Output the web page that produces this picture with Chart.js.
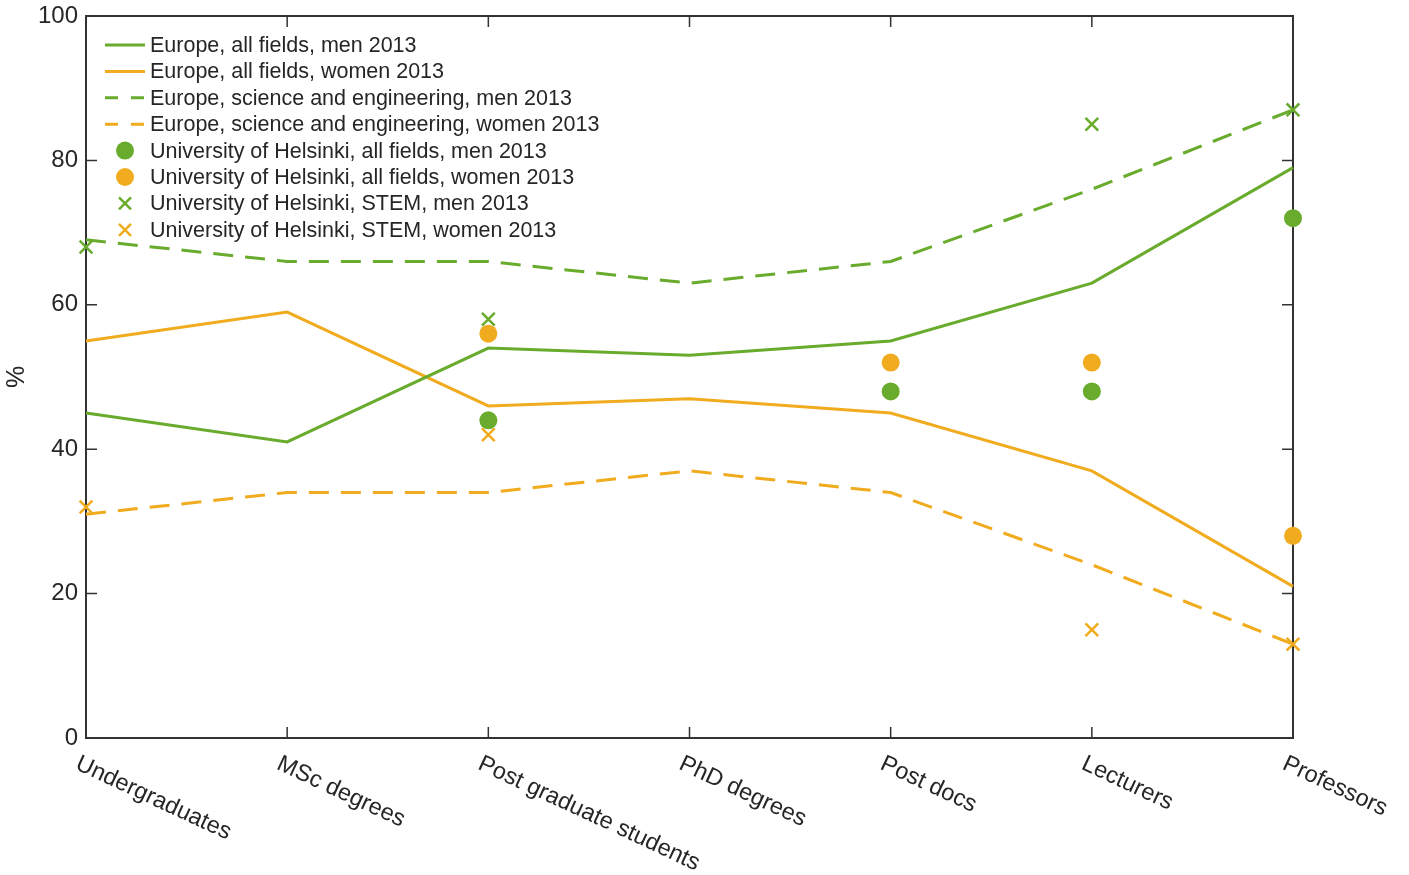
<!DOCTYPE html>
<html>
<head>
<meta charset="utf-8">
<script src="https://cdn.jsdelivr.net/npm/chart.js@4.4.1/dist/chart.umd.min.js"></script>
<style>
  html, body { margin: 0; padding: 0; background: #ffffff; }
  #wrap { width: 1409px; height: 875px; }
</style>
</head>
<body>
<div id="wrap"><canvas id="c" width="1409" height="875"></canvas></div>
<script>
// Share of men and women (%) by academic career stage
const categories = ['Undergraduates', 'MSc degrees', 'Post graduate students', 'PhD degrees', 'Post docs', 'Lecturers', 'Professors'];
const europeAllMen = [45, 41, 54, 53, 55, 63, 79];
const europeAllWomen = [55, 59, 46, 47, 45, 37, 21];
const europeSciMen = [69, 66, 66, 63, 66, 76, 87];
const europeSciWomen = [31, 34, 34, 37, 34, 24, 13];
const helsinkiAllMen = [null, null, 44, null, 48, 48, 72];
const helsinkiAllWomen = [null, null, 56, null, 52, 52, 28];
const helsinkiStemMen = [68, null, 58, null, null, 85, 87];
const helsinkiStemWomen = [32, null, 42, null, null, 15, 13];
const yTicks = [0, 20, 40, 60, 80, 100];

const GREEN = '#69ab2c';
const ORANGE = '#f0ab1e';
const INK = '#262626';
const AXIS = '#333333';
const FONT = '"Liberation Sans", Arial, Helvetica, sans-serif';

function lineSet(label, data, color, dashed) {
  return {
    label, data, type: 'line', kind: 'line',
    borderColor: color, backgroundColor: color, borderWidth: 3,
    borderDash: dashed ? [20, 12] : [], pointRadius: 0, pointHoverRadius: 0,
    tension: 0, fill: false, order: 2
  };
}
function dotSet(label, data, color) {
  return {
    label, data, type: 'line', kind: 'dot', showLine: false,
    pointStyle: 'circle', pointRadius: 9, pointHoverRadius: 9,
    backgroundColor: color, borderColor: color, pointBorderWidth: 0, order: 1
  };
}
function crossSet(label, data, color) {
  return {
    label, data, type: 'line', kind: 'cross', showLine: false,
    pointStyle: 'crossRot', pointRadius: 9, pointHoverRadius: 9,
    backgroundColor: color, borderColor: color, pointBorderWidth: 2.5, order: 0
  };
}

const datasets = [
  lineSet('Europe, all fields, men 2013', europeAllMen, GREEN, false),
  lineSet('Europe, all fields, women 2013', europeAllWomen, ORANGE, false),
  lineSet('Europe, science and engineering, men 2013', europeSciMen, GREEN, true),
  lineSet('Europe, science and engineering, women 2013', europeSciWomen, ORANGE, true),
  dotSet('University of Helsinki, all fields, men 2013', helsinkiAllMen, GREEN),
  dotSet('University of Helsinki, all fields, women 2013', helsinkiAllWomen, ORANGE),
  crossSet('University of Helsinki, STEM, men 2013', helsinkiStemMen, GREEN),
  crossSet('University of Helsinki, STEM, women 2013', helsinkiStemWomen, ORANGE)
];

// Box frame with inward ticks on all four sides
const framePlugin = {
  id: 'frame',
  beforeDatasetsDraw(chart) {
    const { ctx, chartArea: a, scales } = chart;
    ctx.save();
    ctx.strokeStyle = AXIS;
    ctx.lineWidth = 2;
    ctx.strokeRect(a.left, a.top, a.right - a.left, a.bottom - a.top);
    ctx.lineWidth = 1.5;
    ctx.beginPath();
    yTicks.forEach(v => {
      const y = scales.y.getPixelForValue(v);
      ctx.moveTo(a.left, y); ctx.lineTo(a.left + 11, y);
      ctx.moveTo(a.right, y); ctx.lineTo(a.right - 11, y);
    });
    categories.forEach((c, i) => {
      const x = scales.x.getPixelForValue(i);
      ctx.moveTo(x, a.bottom); ctx.lineTo(x, a.bottom - 11);
      ctx.moveTo(x, a.top); ctx.lineTo(x, a.top + 11);
    });
    ctx.stroke();
    ctx.restore();
  },
  afterDraw(chart) {
    const { ctx, chartArea: a, scales } = chart;
    ctx.save();
    // slanted category labels
    ctx.fillStyle = INK;
    ctx.font = '23.5px ' + FONT;
    ctx.textAlign = 'left';
    ctx.textBaseline = 'top';
    categories.forEach((c, i) => {
      const x = scales.x.getPixelForValue(i);
      ctx.save();
      ctx.translate(x - 4, a.bottom + 14);
      ctx.rotate(25 * Math.PI / 180);
      ctx.fillText(c, 0, 0);
      ctx.restore();
    });
    // legend in the upper-left corner of the plot
    ctx.font = '21.5px ' + FONT;
    ctx.textBaseline = 'middle';
    chart.data.datasets.forEach((ds, i) => {
      const y = 45 + i * 26.4;
      ctx.strokeStyle = ds.borderColor;
      ctx.fillStyle = ds.backgroundColor;
      if (ds.kind === 'line') {
        ctx.lineWidth = 3;
        ctx.setLineDash(ds.borderDash.length ? [13, 13] : []);
        ctx.beginPath(); ctx.moveTo(105, y); ctx.lineTo(145, y); ctx.stroke();
        ctx.setLineDash([]);
      } else if (ds.kind === 'dot') {
        ctx.beginPath(); ctx.arc(125, y, 9, 0, Math.PI * 2); ctx.fill();
      } else {
        const r = 6;
        ctx.lineWidth = 2.5;
        ctx.beginPath();
        ctx.moveTo(125 - r, y - r); ctx.lineTo(125 + r, y + r);
        ctx.moveTo(125 + r, y - r); ctx.lineTo(125 - r, y + r);
        ctx.stroke();
      }
      ctx.fillStyle = INK;
      ctx.fillText(ds.label, 150, y + 1);
    });
    ctx.restore();
  }
};

new Chart(document.getElementById('c'), {
  type: 'line',
  data: { labels: categories, datasets },
  options: {
    responsive: false,
    devicePixelRatio: 1,
    animation: false,
    events: [],
    layout: { padding: { top: 16, right: 116, left: 0, bottom: 0 } },
    plugins: { legend: { display: false }, tooltip: { enabled: false } },
    scales: {
      x: {
        type: 'category', offset: false,
        grid: { display: false }, border: { display: false },
        ticks: { display: false },
        afterFit(s) { s.height = 137; }
      },
      y: {
        min: 0, max: 100,
        afterBuildTicks(s) { s.ticks = yTicks.map(v => ({ value: v })); },
        grid: { display: false }, border: { display: false },
        ticks: { color: INK, font: { size: 24, family: FONT }, padding: 0 },
        title: { display: true, text: '%', color: INK, font: { size: 25, family: FONT }, padding: { top: 2, bottom: 2 } },
        afterFit(s) { s.width = 86; }
      }
    }
  },
  plugins: [framePlugin]
});
</script>
</body>
</html>
